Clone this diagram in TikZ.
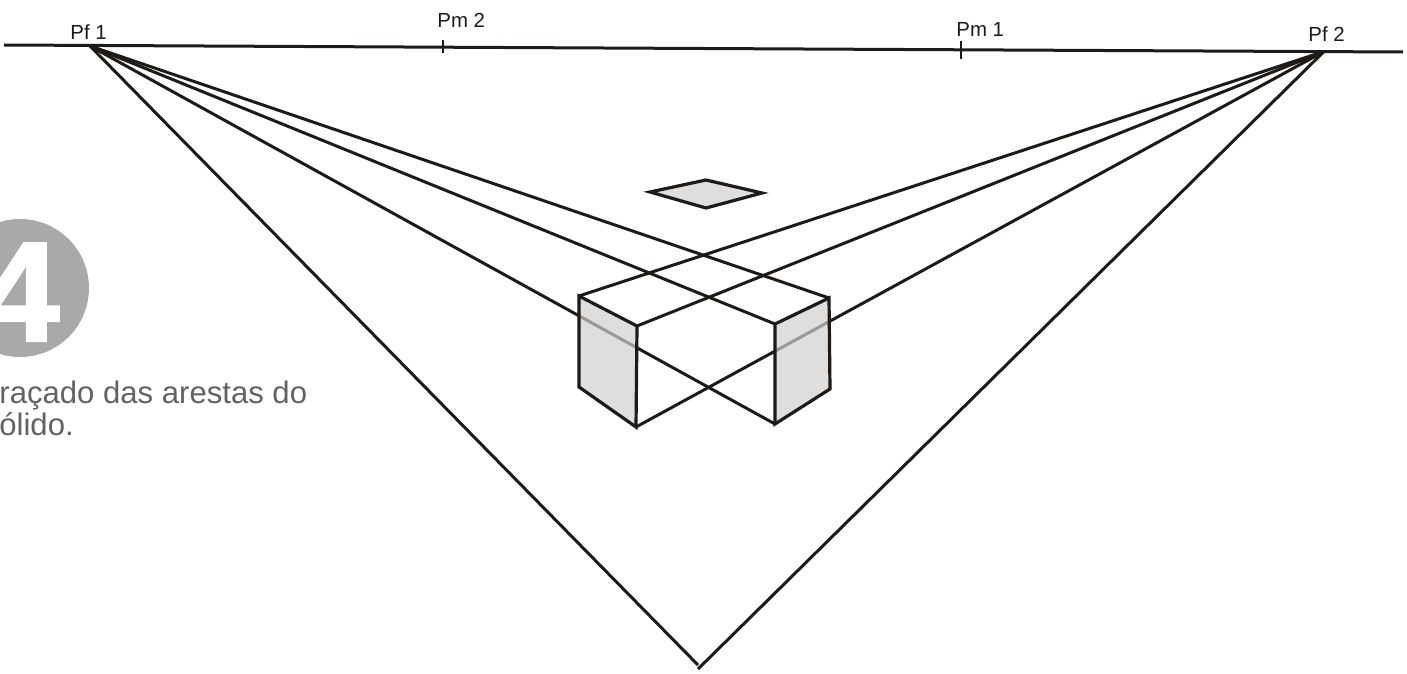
\documentclass[tikz,border=0pt]{standalone}
\usepackage{fontspec}
\setmainfont{Liberation Sans}
\newfontfamily\fourfont[FakeBold=1.6]{Liberation Sans Bold}
\definecolor{ink}{HTML}{1D1A18}
\definecolor{face}{HTML}{DEDEDE}
\definecolor{seen}{HTML}{999999}
\definecolor{disc}{HTML}{ABA9A7}
\definecolor{cap}{HTML}{636261}
\tikzset{
  px/.style={x=0.5pt,y=-0.5pt},
  ray/.style={draw=ink,line width=1.5pt,line cap=butt},
  edge/.style={draw=ink,line width=1.6pt,line join=miter},
  tick/.style={draw=ink,line width=1.4pt},
  pointlabel/.style={anchor=base west,inner sep=0pt,text=ink,font=\fontsize{10.2}{12}\selectfont},
  caption/.style={anchor=base west,inner sep=0pt,text=cap,font=\fontsize{15.55}{18}\selectfont},
  facefill/.style={fill=face,draw=none}
}
\begin{document}
\begin{tikzpicture}[px]
\useasboundingbox (0,0) rectangle (1407,674);
\coordinate (HL) at (4,45); \coordinate (HR) at (1403,52);
\coordinate (F1) at (90,46); \coordinate (F2) at (1324,51.5);
\coordinate (V1) at (698,665); \coordinate (V2) at (698,669);
\coordinate (A) at (579,296); \coordinate (Ab) at (579,387);
\coordinate (B) at (637,326); \coordinate (Bb) at (636,427);
\coordinate (C) at (775,324); \coordinate (Cb) at (775,424);
\coordinate (D) at (829,298); \coordinate (Db) at (830,389);
\coordinate (R1) at (650,192); \coordinate (R2) at (706,180);
\coordinate (R3) at (762,193); \coordinate (R4) at (706,208);
\coordinate (T2a) at (443,40); \coordinate (T2b) at (443,53);
\coordinate (T1a) at (961,41); \coordinate (T1b) at (961,59);
% number badge
\node[circle,fill=disc,minimum size=69pt,inner sep=0pt] (badge) at (20,288) {};
\node[anchor=base,inner sep=0pt,text=white,font=\fourfont\fontsize{71}{71}\selectfont] (four) at (20,341) {4};
\node[caption] (c1) at (-1,403) {raçado das arestas do};
\node[caption] (c2) at (-1,435) {ólido.};
% faces
\path[facefill] (A) -- (B) -- (Bb) -- (Ab) -- cycle;
\path[facefill] (C) -- (D) -- (Db) -- (Cb) -- cycle;
\path[facefill] (R1) -- (R2) -- (R3) -- (R4) -- cycle;
% horizon
\draw[draw=ink,line width=1.5pt] (HL) -- (HR);
\draw[tick] (T2a) -- (T2b);
\draw[tick] (T1a) -- (T1b);
% rays
\draw[ray] (F1) -- (V1);
\draw[ray] (F2) -- (V2);
\draw[ray] (F1) -- (D);
\draw[ray] (F1) -- (C);
\draw[ray] (F1) -- (Cb);
\draw[ray] (F2) -- (A);
\draw[ray] (F2) -- (B);
\draw[ray] (F2) -- (Bb);
% rays seen through the shaded faces
\begin{scope}
\clip (A) -- (B) -- (Bb) -- (Ab) -- cycle;
\path[fill=face] (A) -- (B) -- (Bb) -- (Ab) -- cycle;
\draw[draw=seen,line width=1.5pt] (F1) -- (Cb);
\end{scope}
\begin{scope}
\clip (C) -- (D) -- (Db) -- (Cb) -- cycle;
\path[fill=face] (C) -- (D) -- (Db) -- (Cb) -- cycle;
\draw[draw=seen,line width=1.5pt] (F2) -- (Bb);
\end{scope}
% solid edges
\draw[edge] (A) -- (B) -- (Bb) -- (Ab) -- cycle;
\draw[edge] (C) -- (D) -- (Db) -- (Cb) -- cycle;
\draw[edge] (R1) -- (R2) -- (R3) -- (R4) -- cycle;
% labels
\node[pointlabel] (pf1) at (70,40) {Pf 1};
\node[pointlabel] (pm2) at (437,28) {Pm 2};
\node[pointlabel] (pm1) at (956,37) {Pm 1};
\node[pointlabel] (pf2) at (1308,42) {Pf 2};
\end{tikzpicture}
\end{document}
